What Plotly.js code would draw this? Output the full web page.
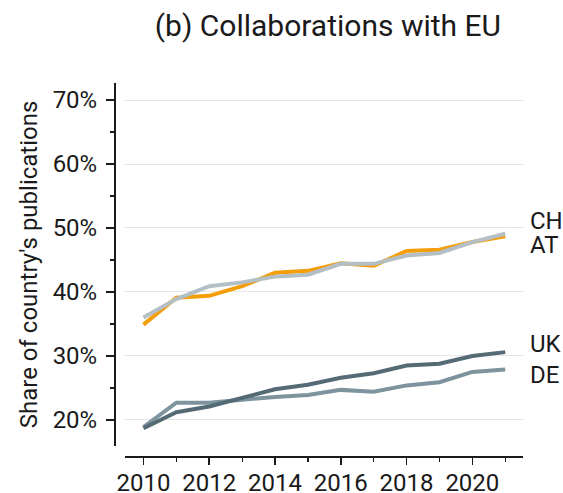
<!DOCTYPE html>
<html>
<head>
<meta charset="utf-8">
<script src="https://cdn.plot.ly/plotly-3.0.1.min.js"></script>
<style>html,body{margin:0;padding:0;background:#fff}#chart{width:563px;height:493px}</style>
</head>
<body>
<div id="chart"></div>
<script>
const years = [2010, 2011, 2012, 2013, 2014, 2015, 2016, 2017, 2018, 2019, 2020, 2021];
const countries = ["CH", "AT", "UK", "DE"];
const CH = [34.9, 39.1, 39.4, 40.9, 43.0, 43.3, 44.5, 44.1, 46.4, 46.6, 47.8, 48.7];
const AT = [36.0, 38.9, 40.9, 41.5, 42.4, 42.7, 44.4, 44.4, 45.7, 46.1, 47.8, 49.1];
const UK = [18.7, 21.2, 22.1, 23.5, 24.8, 25.5, 26.6, 27.3, 28.5, 28.8, 30.0, 30.6];
const DE = [18.9, 22.7, 22.7, 23.2, 23.6, 23.9, 24.7, 24.4, 25.4, 25.9, 27.5, 27.9];
const yTickVals = [20, 30, 40, 50, 60, 70];
const xTickVals = [2010, 2012, 2014, 2016, 2018, 2020];

const seriesData = {CH: CH, AT: AT, UK: UK, DE: DE};
const colors = {CH: "#f59e0b", AT: "#b3bfc5", UK: "#546b76", DE: "#7d939e"};
const drawOrder = ["DE", "UK", "CH", "AT"];
const labelY = {CH: 51.1, AT: 47.3, UK: 31.9, DE: 27.1};

const traces = drawOrder.map(c => ({
  x: years, y: seriesData[c], type: "scatter", mode: "lines", name: c,
  line: {color: colors[c], width: 4}, hoverinfo: "skip"
}));

const font = "Roboto, 'Noto Sans', sans-serif";
const layout = {
  width: 563, height: 493,
  margin: {l: 114, r: 40, t: 83, b: 37, pad: 0},
  paper_bgcolor: "#fff", plot_bgcolor: "#fff",
  showlegend: false,
  font: {family: font, color: "#1a1a1a", size: 24},
  title: {text: "(b) Collaborations with EU", font: {family: font, size: 30, color: "#1a1a1a"},
          x: 0.523, xanchor: "center", y: 0.948, yanchor: "middle", xref: "paper"},
  xaxis: {
    domain: [0.027, 1], anchor: "free", position: 0,
    range: [2009.44, 2021.54],
    tickvals: xTickVals, ticktext: xTickVals.map(String),
    showgrid: false, zeroline: false,
    showline: true, linecolor: "#1a1a1a", linewidth: 1.5,
    ticks: "outside", ticklen: 7, tickwidth: 1.5, tickcolor: "#1a1a1a",
    minor: {dtick: 1, tick0: 2010, ticks: "outside", ticklen: 4, tickwidth: 1.2, tickcolor: "#1a1a1a", showgrid: false},
    tickfont: {family: font, size: 24, color: "#1a1a1a"}, ticklabelstandoff: -2
  },
  yaxis: {
    domain: [0.027, 1], anchor: "free", position: 0,
    range: [15.94, 72.66],
    tickvals: yTickVals, ticktext: yTickVals.map(v => v + "%"),
    showgrid: true, gridcolor: "#e6e6e6", gridwidth: 1, zeroline: false,
    showline: true, linecolor: "#1a1a1a", linewidth: 1.5,
    ticks: "outside", ticklen: 8, tickwidth: 1.5, tickcolor: "#1a1a1a",
    minor: {dtick: 5, tick0: 15, ticks: "outside", ticklen: 4, tickwidth: 1.2, tickcolor: "#1a1a1a", showgrid: false},
    tickfont: {family: font, size: 24, color: "#1a1a1a"}, ticklabelstandoff: 4,
    title: {text: "Share of country's publications", font: {family: font, size: 24, color: "#1a1a1a"}, standoff: 6}
  },
  annotations: countries.map(c => ({
    text: c, xref: "paper", x: 1.012, xanchor: "left", yref: "y", y: labelY[c], yanchor: "middle",
    showarrow: false, font: {family: font, size: 24, color: "#1a1a1a"}
  }))
};

Plotly.newPlot("chart", traces, layout, {staticPlot: true, displayModeBar: false});
</script>
</body>
</html>
